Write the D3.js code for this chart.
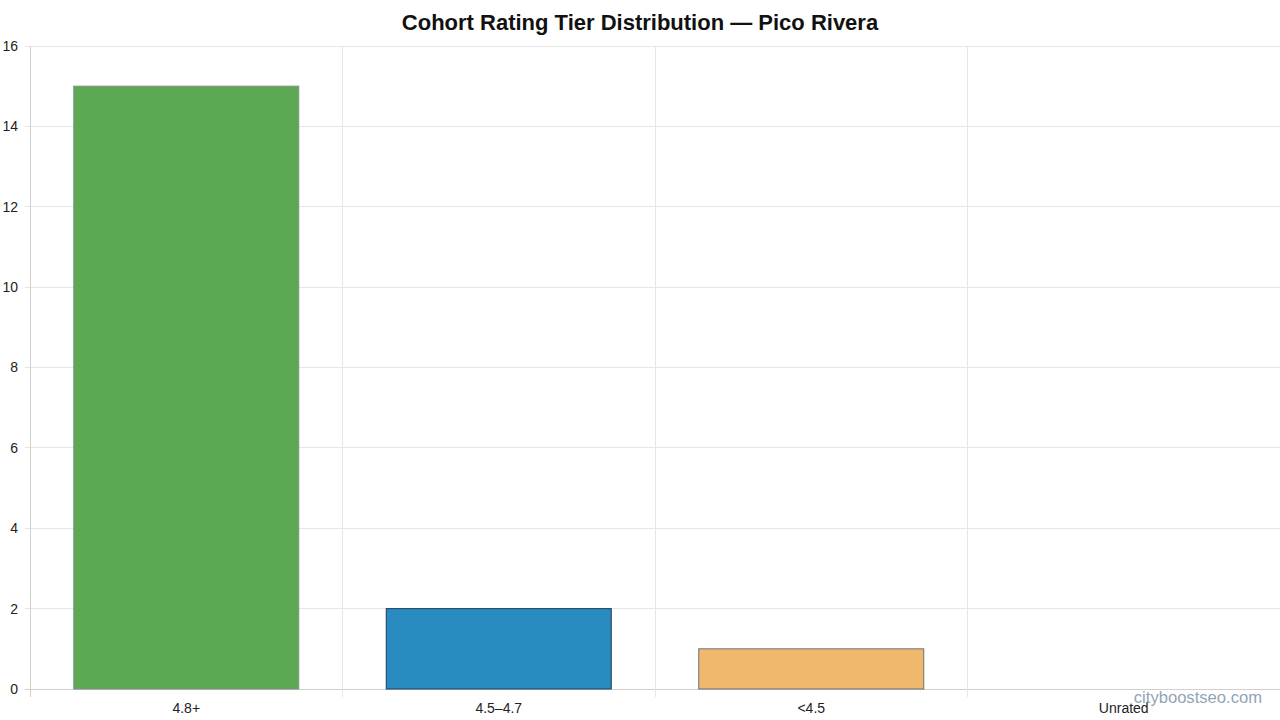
<!DOCTYPE html>
<html><head><meta charset="utf-8">
<script src="https://cdn.jsdelivr.net/npm/d3@7"></script>
<style>body{margin:0;background:#fff}svg{display:block;font-family:"Liberation Sans",Arial,Helvetica,sans-serif}</style>
</head><body>
<svg id="c" width="1280" height="720"></svg>
<script>
const categories = ["4.8+", "4.5–4.7", "<4.5", "Unrated"];
const counts = [15, 2, 1, 0];
const barColors = ["#5ca853", "#2a8bc1", "#efb86c", "#9aa5b1"];
const barBorders = ["#7f8f86", "#1e3d5a", "#6b7178", "#6b7178"];
const yTicks = [0, 2, 4, 6, 8, 10, 12, 14, 16];
const title = "Cohort Rating Tier Distribution — Pico Rivera";
const watermark = "cityboostseo.com";

const W = 1280, H = 720;
const m = {left: 30, right: 0, top: 46, bottom: 31};
const svg = d3.select("#c");

const x = d3.scaleBand().domain(categories).range([m.left, W - m.right]).paddingInner(0).paddingOuter(0);
const y = d3.scaleLinear().domain([0, 16]).range([H - m.bottom, m.top]);
const bw = x.bandwidth() * 0.72;

// grid
const g = svg.append("g");
g.selectAll("line.h").data(yTicks).join("line")
  .attr("x1", m.left - 5).attr("x2", W - m.right)
  .attr("y1", d => y(d)).attr("y2", d => y(d))
  .attr("stroke", d => d === 0 ? "#cfcfcf" : "#e6e6e6").attr("stroke-width", 1)
  .attr("shape-rendering", "crispEdges");
const vx = categories.map(c => x(c)).concat([W - m.right]);
g.selectAll("line.v").data(vx).join("line")
  .attr("x1", d => d).attr("x2", d => d)
  .attr("y1", m.top).attr("y2", H - m.bottom + 8)
  .attr("stroke", (d, i) => i === 0 ? "#cfcfcf" : "#e6e6e6").attr("stroke-width", 1)
  .attr("shape-rendering", "crispEdges");

// bars
svg.append("g").selectAll("rect").data(counts).join("rect")
  .attr("x", (d, i) => x(categories[i]) + (x.bandwidth() - bw) / 2)
  .attr("width", bw)
  .attr("y", d => y(d))
  .attr("height", d => y(0) - y(d))
  .attr("fill", (d, i) => barColors[i])
  .attr("stroke", (d, i) => d > 0 ? barBorders[i] : "none")
  .attr("stroke-width", 1);

// y labels
svg.append("g").selectAll("text").data(yTicks).join("text")
  .attr("x", 18).attr("y", d => y(d)).attr("dy", "0.35em")
  .attr("text-anchor", "end").attr("font-size", 14).attr("fill", "#222")
  .text(d => d);

// x labels
svg.append("g").selectAll("text").data(categories).join("text")
  .attr("x", d => x(d) + x.bandwidth() / 2).attr("y", 713)
  .attr("text-anchor", "middle").attr("font-size", 14).attr("fill", "#222")
  .text(d => d);

// title
svg.append("text").attr("x", 640).attr("y", 30).attr("text-anchor", "middle")
  .attr("font-size", 22).attr("font-weight", "bold").attr("fill", "#111").text(title);

// watermark
svg.append("text").attr("x", 1262).attr("y", 703).attr("text-anchor", "end")
  .attr("font-size", 16.6).attr("fill", "#8496ad").attr("fill-opacity", 0.9).text(watermark);
</script>
</body></html>
